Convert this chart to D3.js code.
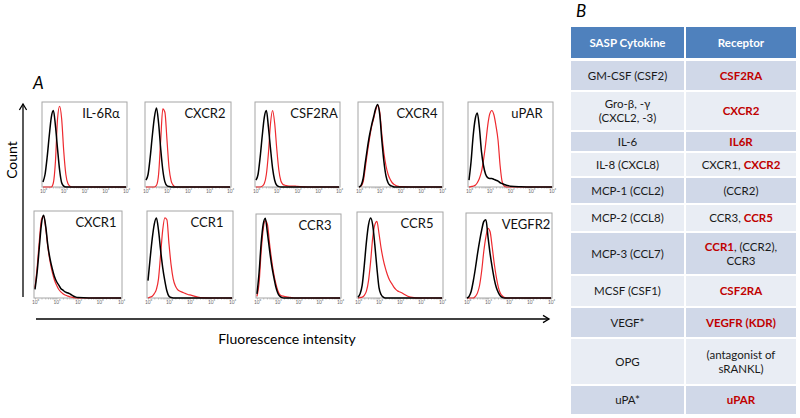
<!DOCTYPE html>
<html><head><meta charset="utf-8">
<script src="https://cdn.jsdelivr.net/npm/d3@7"></script>
<style>body{margin:0;background:#fff}svg{display:block}</style>
</head><body><svg id="c" width="800" height="418"></svg>
<script>
// ---------------- DATA ----------------
const panelNames = ["IL-6Rα","CXCR2","CSF2RA","CXCR4","uPAR","CXCR1","CCR1","CCR3","CCR5","VEGFR2"];
// log10 fluorescence positions at which counts are read
const logGrid = [0,0.1,0.2,0.3,0.4,0.5,0.6,0.7,0.8,0.9,1.0,1.1,1.2,1.3,1.4,1.5,1.6,1.7,1.8,1.9,2.0,2.5,3,4];
// control (black) normalized counts, one array per panel
const controlCounts = [
 [0.06,0.15,0.35,0.6,0.82,0.9,0.72,0.45,0.2,0.05,0.01,0,0,0,0,0,0,0,0,0,0,0,0,0],
 [0.08,0.15,0.35,0.6,0.82,0.93,0.75,0.45,0.2,0.06,0.015,0.005,0,0,0,0,0,0,0,0,0,0,0,0],
 [0.08,0.15,0.35,0.6,0.82,0.9,0.7,0.45,0.22,0.08,0.02,0.005,0,0,0,0,0,0,0,0,0,0,0,0],
 [0,0.02,0.1,0.28,0.45,0.6,0.72,0.82,0.92,0.97,0.85,0.55,0.3,0.13,0.05,0.02,0.01,0,0,0,0,0,0,0],
 [0.08,0.3,0.6,0.8,0.87,0.7,0.42,0.25,0.15,0.11,0.1,0.1,0.09,0.08,0.07,0.05,0.04,0.03,0.02,0.015,0.01,0.003,0,0],
 [0.1,0.3,0.58,0.85,0.95,0.82,0.6,0.45,0.34,0.25,0.19,0.15,0.11,0.09,0.07,0.06,0.05,0.035,0.02,0.01,0.005,0,0,0],
 [0.2,0.45,0.68,0.85,0.92,0.78,0.55,0.35,0.2,0.08,0.02,0.005,0,0,0,0,0,0,0,0,0,0,0,0],
 [0.05,0.3,0.65,0.88,0.95,0.78,0.58,0.4,0.26,0.14,0.06,0.02,0.005,0,0,0,0,0,0,0,0,0,0,0],
 [0.01,0.05,0.15,0.38,0.65,0.85,0.93,0.85,0.62,0.35,0.12,0.04,0.01,0,0,0,0,0,0,0,0,0,0,0],
 [0,0.02,0.08,0.2,0.35,0.52,0.67,0.8,0.9,0.92,0.72,0.52,0.36,0.22,0.12,0.06,0.02,0.005,0,0,0,0,0,0]
];
// stained (red) normalized counts, one array per panel
const stainedCounts = [
 [0,0,0,0,0,0.05,0.3,0.8,0.95,0.8,0.42,0.15,0.04,0.01,0,0,0,0,0,0,0,0,0,0],
 [0,0,0,0,0,0.02,0.15,0.55,0.92,0.88,0.55,0.22,0.07,0.02,0,0,0,0,0,0,0,0,0,0],
 [0,0,0,0.01,0.04,0.15,0.4,0.75,0.9,0.75,0.45,0.2,0.07,0.03,0.02,0.015,0.01,0.01,0.012,0.01,0.008,0,0,0],
 [0,0.01,0.06,0.22,0.4,0.56,0.7,0.8,0.9,0.96,0.88,0.62,0.4,0.25,0.15,0.09,0.05,0.03,0.015,0.008,0.005,0,0,0],
 [0,0.005,0.01,0.02,0.05,0.1,0.18,0.32,0.5,0.72,0.86,0.9,0.85,0.72,0.55,0.25,0.06,0.01,0,0,0,0,0,0],
 [0.12,0.35,0.65,0.9,0.94,0.8,0.58,0.42,0.3,0.21,0.15,0.1,0.07,0.05,0.035,0.025,0.015,0.01,0.005,0,0,0,0,0],
 [0,0.01,0.02,0.05,0.1,0.22,0.5,0.78,0.92,0.9,0.62,0.38,0.22,0.14,0.1,0.08,0.07,0.06,0.05,0.04,0.035,0.005,0,0],
 [0.02,0.18,0.55,0.82,0.92,0.88,0.66,0.46,0.3,0.18,0.09,0.04,0.025,0.02,0.015,0.01,0.008,0.005,0,0,0,0,0,0],
 [0,0.005,0.01,0.03,0.08,0.2,0.42,0.7,0.85,0.89,0.75,0.58,0.45,0.35,0.27,0.21,0.17,0.13,0.1,0.08,0.07,0.01,0,0],
 [0,0,0,0,0.02,0.06,0.15,0.32,0.55,0.72,0.82,0.78,0.6,0.4,0.24,0.12,0.05,0.02,0.005,0,0,0,0,0]
];
const decadeLabels = ["10⁰","10¹","10²","10³","10⁴"];

const tableHeaders = ["SASP Cytokine","Receptor"];
const cytokines = ["GM-CSF (CSF2)","Gro-β, -γ\n(CXCL2, -3)","IL-6","IL-8 (CXCL8)","MCP-1 (CCL2)","MCP-2 (CCL8)","MCP-3 (CCL7)","MCSF (CSF1)","VEGF*","OPG","uPA*"];
// {...} = receptor tested (highlighted)
const receptors = ["{CSF2RA}","{CXCR2}","{IL6R}","CXCR1, {CXCR2}","(CCR2)","CCR3, {CCR5}","{CCR1}, (CCR2),\nCCR3","{CSF2RA}","{VEGFR (KDR)}","(antagonist of\nsRANKL)","{uPAR}"];

// ---------------- LAYOUT ----------------
const FONT = "Lato, 'Open Sans', 'DejaVu Sans', sans-serif";
const boxes = [
 [42,127,102,187],[145,231,102,187],[255,340,102,187],[358,443,102,187],[468,553,102,187],
 [34,122,211,298],[147,233,211,298],[256,341,214,298],[357,443,212,298],[466,552,213,298]
];
const tableCols = [571,685,796];
const headerTop = 27, headerH = 31, rowGap = 2;
const rowHeights = [29,38,19,23,25,26,41,30,29,45,28];

const svg = d3.select("#c");

// ---------------- PANEL A ----------------
svg.append("text").attr("x",33).attr("y",89).attr("font-family",FONT).attr("font-style","italic")
  .attr("font-size",17).text("A");

panelNames.forEach((name,i)=>{
  const [x0,x1,y0,y1] = boxes[i];
  const x = d3.scaleLog().domain([1,1e4]).range([x0+1,x1-1]);
  const y = d3.scaleLinear().domain([0,1]).range([y1,y0]);
  const g = svg.append("g");
  const ticks = x.ticks();
  const ax = d3.axisBottom(x).tickValues(ticks).tickSize(1.5).tickPadding(1.5)
    .tickFormat(v=>{const e=Math.round(Math.log10(v)); return Math.abs(Math.log10(v)-e)<1e-9 ? decadeLabels[e] : "";});
  const axg = g.append("g").attr("transform",`translate(0,${y1})`).call(ax);
  axg.select(".domain").remove();
  axg.selectAll("line").attr("stroke","#999").attr("stroke-width",0.6);
  axg.selectAll("text").attr("font-size",4.8).attr("fill","#666").attr("font-family",FONT);

  g.append("rect").attr("x",x0).attr("y",y0).attr("width",x1-x0).attr("height",y1-y0)
    .attr("fill","none").attr("stroke","#a6a6a6").attr("stroke-width",1);

  const line = d3.line().x((d,j)=>x(Math.pow(10,logGrid[j]))).y(d=>y(d)).curve(d3.curveMonotoneX);
  g.append("path").datum(stainedCounts[i]).attr("d",line).attr("fill","none")
    .attr("stroke","#ee2a2f").attr("stroke-width",1.2);
  g.append("path").datum(controlCounts[i]).attr("d",line).attr("fill","none")
    .attr("stroke","#000").attr("stroke-width",1.5);

  g.append("text").attr("x",x1-26).attr("y",y0+16).attr("text-anchor","middle")
    .attr("font-family",FONT).attr("font-size",13).attr("fill","#111").text(name);
});

function arrowHead(x,y,dir){
  const s=6;
  const p = dir==="up" ? [[x-s*0.6,y+s],[x,y],[x+s*0.6,y+s]] : [[x-s,y-s*0.6],[x,y],[x-s,y+s*0.6]];
  svg.append("path").attr("d",d3.line()(p)).attr("fill","none").attr("stroke","#000").attr("stroke-width",1.3);
}
svg.append("line").attr("x1",23).attr("x2",23).attr("y1",297).attr("y2",104).attr("stroke","#000").attr("stroke-width",1.3);
arrowHead(23,104,"up");
svg.append("line").attr("x1",36).attr("x2",549).attr("y1",319).attr("y2",319).attr("stroke","#000").attr("stroke-width",1.3);
arrowHead(549,319,"right");
svg.append("text").attr("transform","translate(17,160) rotate(-90)").attr("text-anchor","middle")
  .attr("font-family",FONT).attr("font-size",14).text("Count");
svg.append("text").attr("x",287).attr("y",344).attr("text-anchor","middle")
  .attr("font-family",FONT).attr("font-size",14).text("Fluorescence intensity");

// ---------------- PANEL B (table) ----------------
svg.append("text").attr("x",576).attr("y",17).attr("font-family",FONT).attr("font-style","italic")
  .attr("font-size",17).text("B");

function drawCellText(g,str,cx,cy,baseColor,bold){
  const lines = str.split("\n");
  const lh = 14;
  lines.forEach((ln,k)=>{
    const by = cy - (lines.length-1)*lh/2 + k*lh + 4;
    const t = g.append("text").attr("x",cx).attr("y",by).attr("text-anchor","middle")
      .attr("font-family",FONT).attr("font-size",11.5);
    ln.split(/[{}]/).forEach((seg,m)=>{
      if(!seg) return;
      const hl = m%2===1;
      t.append("tspan").text(seg)
        .attr("fill", hl ? "#c00000" : baseColor)
        .attr("font-weight", (hl||bold) ? "bold" : "normal");
    });
  });
}

const tg = svg.append("g");
[0,1].forEach(c=>{
  const xa = tableCols[c] + (c===0?0:1), xb = tableCols[c+1] - (c===0?1:0);
  tg.append("rect").attr("x",xa).attr("y",headerTop).attr("width",xb-xa).attr("height",headerH).attr("fill","#4f81bd");
  drawCellText(tg,tableHeaders[c],(xa+xb)/2,headerTop+headerH/2,"#fff",true);
});
let yCur = headerTop + headerH + 3;
cytokines.forEach((cy,r)=>{
  const h = rowHeights[r];
  const fill = r%2===0 ? "#d0d8e8" : "#e9edf4";
  [cy, receptors[r]].forEach((txt,c)=>{
    const xa = tableCols[c] + (c===0?0:1), xb = tableCols[c+1] - (c===0?1:0);
    tg.append("rect").attr("x",xa).attr("y",yCur).attr("width",xb-xa).attr("height",h).attr("fill",fill);
    drawCellText(tg,txt,(xa+xb)/2,yCur+h/2,"#1a1a1a",false);
  });
  yCur += h + rowGap;
});
</script></body></html>
